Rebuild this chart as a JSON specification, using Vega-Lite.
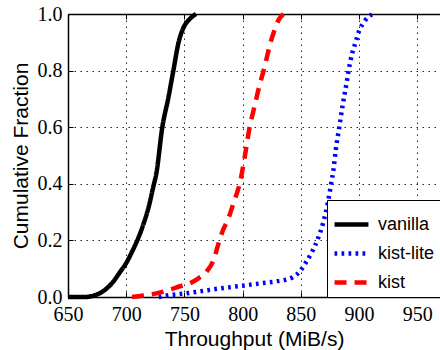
{
  "$schema": "https://vega.github.io/schema/vega-lite/v6.json",
  "width": 372,
  "height": 283,
  "autosize": {"type": "none"},
  "padding": {"left": 68, "top": 14, "right": 0, "bottom": 53},
  "background": "white",
  "config": {
    "view": {"stroke": null},
    "axis": {
      "labelFont": "Liberation Serif",
      "labelFontSize": 20,
      "labelColor": "black",
      "titleFont": "Liberation Sans",
      "titleFontSize": 21,
      "titleFontWeight": "normal",
      "titleColor": "black",
      "domainColor": "black",
      "domainWidth": 1.5,
      "tickColor": "black",
      "tickWidth": 1,
      "gridColor": "black",
      "gridOpacity": 0.85,
      "gridDash": [1.5, 4.5],
      "gridWidth": 1
    },
    "legend": {
      "labelFont": "Liberation Sans",
      "labelFontSize": 18,
      "labelColor": "black"
    }
  },
  "data": {
    "values": [
      {"series": "vanilla", "x": 650, "y": 0},
      {"series": "vanilla", "x": 665, "y": 0},
      {"series": "vanilla", "x": 672, "y": 0.005},
      {"series": "vanilla", "x": 680, "y": 0.02},
      {"series": "vanilla", "x": 688, "y": 0.05},
      {"series": "vanilla", "x": 695, "y": 0.09},
      {"series": "vanilla", "x": 700, "y": 0.12},
      {"series": "vanilla", "x": 705, "y": 0.16},
      {"series": "vanilla", "x": 710, "y": 0.205},
      {"series": "vanilla", "x": 715, "y": 0.26},
      {"series": "vanilla", "x": 720, "y": 0.33},
      {"series": "vanilla", "x": 723, "y": 0.385},
      {"series": "vanilla", "x": 726, "y": 0.44},
      {"series": "vanilla", "x": 731, "y": 0.6},
      {"series": "vanilla", "x": 736, "y": 0.7},
      {"series": "vanilla", "x": 740.5, "y": 0.8},
      {"series": "vanilla", "x": 745, "y": 0.9},
      {"series": "vanilla", "x": 749, "y": 0.95},
      {"series": "vanilla", "x": 754, "y": 0.98},
      {"series": "vanilla", "x": 760, "y": 1.0},
      {"series": "kist-lite", "x": 728, "y": 0},
      {"series": "kist-lite", "x": 738, "y": 0.007},
      {"series": "kist-lite", "x": 750, "y": 0.012},
      {"series": "kist-lite", "x": 760, "y": 0.018},
      {"series": "kist-lite", "x": 770, "y": 0.024},
      {"series": "kist-lite", "x": 780, "y": 0.03},
      {"series": "kist-lite", "x": 790, "y": 0.035},
      {"series": "kist-lite", "x": 800, "y": 0.04},
      {"series": "kist-lite", "x": 815, "y": 0.048},
      {"series": "kist-lite", "x": 830, "y": 0.056},
      {"series": "kist-lite", "x": 838, "y": 0.062},
      {"series": "kist-lite", "x": 843, "y": 0.07},
      {"series": "kist-lite", "x": 849, "y": 0.09},
      {"series": "kist-lite", "x": 854, "y": 0.12},
      {"series": "kist-lite", "x": 859, "y": 0.155},
      {"series": "kist-lite", "x": 865, "y": 0.21},
      {"series": "kist-lite", "x": 869, "y": 0.26},
      {"series": "kist-lite", "x": 873, "y": 0.33},
      {"series": "kist-lite", "x": 876, "y": 0.4},
      {"series": "kist-lite", "x": 878, "y": 0.45},
      {"series": "kist-lite", "x": 880, "y": 0.52},
      {"series": "kist-lite", "x": 883, "y": 0.6},
      {"series": "kist-lite", "x": 886, "y": 0.68},
      {"series": "kist-lite", "x": 889, "y": 0.75},
      {"series": "kist-lite", "x": 891, "y": 0.8},
      {"series": "kist-lite", "x": 894, "y": 0.86},
      {"series": "kist-lite", "x": 897, "y": 0.9},
      {"series": "kist-lite", "x": 900, "y": 0.94},
      {"series": "kist-lite", "x": 904, "y": 0.97},
      {"series": "kist-lite", "x": 908, "y": 0.99},
      {"series": "kist-lite", "x": 912, "y": 1.0},
      {"series": "kist", "x": 705, "y": 0},
      {"series": "kist", "x": 715, "y": 0.005},
      {"series": "kist", "x": 725, "y": 0.012},
      {"series": "kist", "x": 737, "y": 0.025},
      {"series": "kist", "x": 746, "y": 0.038},
      {"series": "kist", "x": 755, "y": 0.049},
      {"series": "kist", "x": 762, "y": 0.066},
      {"series": "kist", "x": 769, "y": 0.09},
      {"series": "kist", "x": 775, "y": 0.13},
      {"series": "kist", "x": 779, "y": 0.185},
      {"series": "kist", "x": 783, "y": 0.235},
      {"series": "kist", "x": 787.5, "y": 0.275},
      {"series": "kist", "x": 792, "y": 0.33},
      {"series": "kist", "x": 798, "y": 0.41},
      {"series": "kist", "x": 802, "y": 0.5},
      {"series": "kist", "x": 806, "y": 0.6},
      {"series": "kist", "x": 810, "y": 0.67},
      {"series": "kist", "x": 814, "y": 0.74},
      {"series": "kist", "x": 818, "y": 0.8},
      {"series": "kist", "x": 821, "y": 0.85},
      {"series": "kist", "x": 824, "y": 0.9},
      {"series": "kist", "x": 828, "y": 0.95},
      {"series": "kist", "x": 831, "y": 0.98},
      {"series": "kist", "x": 835, "y": 1.0}
    ]
  },
  "layer": [
    {
      "mark": {"type": "line", "strokeCap": "butt", "interpolate": "monotone"},
      "encoding": {
        "x": {
          "field": "x", "type": "quantitative",
          "scale": {"domain": [650, 969.5], "nice": false, "zero": false},
          "axis": {"values": [650, 700, 750, 800, 850, 900, 950], "title": "Throughput (MiB/s)", "grid": true, "tickSize": -5, "labelPadding": 12, "titlePadding": 4, "labelFlush": false}
        },
        "y": {
          "field": "y", "type": "quantitative",
          "scale": {"domain": [0, 1], "nice": false},
          "axis": {"values": [0, 0.2, 0.4, 0.6, 0.8, 1.0], "format": ".1f", "title": "Cumulative Fraction", "grid": true, "tickSize": -5, "labelPadding": 11, "titlePadding": 6, "labelFlush": false}
        },
        "order": {"field": "x", "type": "quantitative"},
        "color": {
          "field": "series", "type": "nominal",
          "scale": {"domain": ["vanilla", "kist-lite", "kist"], "range": ["#000000", "#0000ff", "#ff0000"]},
          "legend": {
            "title": null, "orient": "none", "legendX": 259, "legendY": 186,
            "symbolType": "stroke", "symbolSize": 1150, "symbolOffset": 0,
            "fillColor": "white", "strokeColor": "black", "padding": 5,
            "rowPadding": 0, "labelOffset": 7, "cornerRadius": 0
          }
        },
        "strokeDash": {
          "field": "series", "type": "nominal",
          "scale": {"domain": ["vanilla", "kist-lite", "kist"], "range": [[1, 0], [2.7, 4.3], [12, 8]]},
          "legend": null
        },
        "strokeWidth": {
          "field": "series", "type": "nominal",
          "scale": {"domain": ["vanilla", "kist-lite", "kist"], "range": [4.5, 4.5, 5.2]},
          "legend": null
        }
      }
    },
    {
      "mark": {"type": "point", "opacity": 0},
      "encoding": {
        "x": {
          "field": "x", "type": "quantitative",
          "axis": {"orient": "top", "values": [650, 700, 750, 800, 850, 900, 950], "labels": false, "title": null, "grid": false, "tickSize": -5, "domain": true}
        },
        "y": {"field": "y", "type": "quantitative"}
      }
    }
  ],
  "resolve": {"axis": {"x": "independent"}}
}
